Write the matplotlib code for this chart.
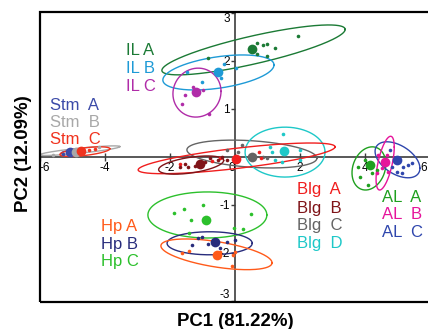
import numpy as np
import matplotlib
matplotlib.use("Agg")
import matplotlib.pyplot as plt
import matplotlib.transforms as mtransforms
from matplotlib.patches import Rectangle

plt.rcParams['font.family'] = ['Liberation Sans', 'DejaVu Sans']

# groupes
groups = ["Stm A", "Stm B", "Stm C", "IL A", "IL B", "IL C",
          "Blg C", "Blg D", "Blg A", "Blg B",
          "Hp C", "Hp B", "Hp A", "AL A", "AL C", "AL B"]

colors = {
    "IL A": "#1b7a35", "IL B": "#1e9ad6", "IL C": "#b02ca8",
    "Stm A": "#3b4aa8", "Stm B": "#a8a8a8", "Stm C": "#f0321e",
    "Hp A": "#ff5a1a", "Hp B": "#282c7c", "Hp C": "#2cc02c",
    "Blg A": "#f01e1e", "Blg B": "#7f1418", "Blg C": "#646464", "Blg D": "#1ec8c8",
    "AL A": "#1fa01f", "AL B": "#e6149b", "AL C": "#2f46ad",
}

# centroides
centroid_x = {"IL A": 0.52, "IL B": -0.52, "IL C": -1.2,
              "Stm A": -5.08, "Stm B": -4.9, "Stm C": -4.74,
              "Blg A": 0.03, "Blg B": -1.08, "Blg C": 0.52, "Blg D": 1.51,
              "Hp A": -0.55, "Hp B": -0.62, "Hp C": -0.89,
              "AL A": 4.15, "AL B": 4.62, "AL C": 4.98}
centroid_y = {"IL A": 2.25, "IL B": 1.77, "IL C": 1.35,
              "Stm A": 0.10, "Stm B": 0.11, "Stm C": 0.13,
              "Blg A": -0.04, "Blg B": -0.15, "Blg C": 0.0, "Blg D": 0.13,
              "Hp A": -2.04, "Hp B": -1.77, "Hp C": -1.31,
              "AL A": -0.17, "AL B": -0.10, "AL C": -0.06}

# ellipses de confiance : centre, demi-etendues, correlation
ell_cx = {"IL A": 0.57, "IL B": -0.51, "IL C": -1.17,
          "Stm A": -5.05, "Stm B": -4.77, "Stm C": -4.62,
          "Blg A": 0.05, "Blg B": -1.35, "Blg C": 0.52, "Blg D": 1.54,
          "Hp A": -0.57, "Hp B": -0.78, "Hp C": -0.85,
          "AL A": 4.12, "AL B": 4.62, "AL C": 5.0}
ell_cy = {"IL A": 2.23, "IL B": 1.76, "IL C": 1.34,
          "Stm A": 0.10, "Stm B": 0.13, "Stm C": 0.11,
          "Blg A": -0.03, "Blg B": -0.17, "Blg C": 0.06, "Blg D": 0.10,
          "Hp A": -2.03, "Hp B": -1.80, "Hp C": -1.21,
          "AL A": -0.24, "AL B": -0.13, "AL C": -0.06}
ell_sx = {"IL A": 2.82, "IL B": 1.71, "IL C": 0.74,
          "Stm A": 0.30, "Stm B": 1.23, "Stm C": 0.77,
          "Blg A": 3.03, "Blg B": 1.0, "Blg C": 2.0, "Blg D": 1.23,
          "Hp A": 1.71, "Hp B": 1.31, "Hp C": 1.83,
          "AL A": 0.52, "AL B": 0.28, "AL C": 0.69}
ell_sy = {"IL A": 0.52, "IL B": 0.365, "IL C": 0.51,
          "Stm A": 0.05, "Stm B": 0.10, "Stm C": 0.10,
          "Blg A": 0.32, "Blg B": 0.19, "Blg C": 0.29, "Blg D": 0.52,
          "Hp A": 0.32, "Hp B": 0.24, "Hp C": 0.48,
          "AL A": 0.45, "AL B": 0.56, "AL C": 0.375}
ell_rho = {"IL A": 0.82, "IL B": 0.43, "IL C": 0.05,
           "Stm A": 0.5, "Stm B": 0.85, "Stm C": 0.6,
           "Blg A": 0.75, "Blg B": 0.5, "Blg C": -0.3, "Blg D": 0.0,
           "Hp A": -0.55, "Hp B": 0.0, "Hp C": 0.0,
           "AL A": 0.2, "AL B": 0.6, "AL C": -0.47}

# echantillons individuels
point_x = {
    "IL A": [0.68, 0.86, 0.98, 1.23, 0.98, 0.68, 1.94, -0.83],
    "IL B": [0.03, -0.43, -0.34, -1.48, -1.02],
    "IL C": [-0.98, -1.54, -1.63, -0.8, -1.29],
    "Stm A": [-5.3, -4.95], "Stm B": [-5.6, -4.2], "Stm C": [-4.5, -4.3],
    "Blg A": [0.74, 0.8, -1.69, -0.71, -0.46],
    "Blg B": [-1.54, -1.45, -1.23, -0.92, -0.77, -0.52, -0.4, -1.69, -0.25],
    "Blg C": [0.2, -0.25, 0.86, 0.98, 0.1],
    "Blg D": [1.48, 1.08, 1.14, 1.45, 2.0, 2.0, 1.45, 1.23],
    "Hp A": [-1.63, -1.42, -0.46, -0.06, -0.09, 0.0],
    "Hp B": [-1.14, -1.02, -1.32, -0.83, -0.46, -0.25, 0.0],
    "Hp C": [-1.88, -1.57, -0.98, -1.35, -0.03, 0.25, 0.49, -1.42],
    "AL A": [4.0, 3.78, 3.85, 4.22, 4.09, 4.37],
    "AL B": [4.4, 4.68, 4.52, 4.37, 4.71],
    "AL C": [4.83, 5.17, 5.32, 5.45, 4.98, 5.14, 4.77],
}
point_y = {
    "IL A": [2.38, 2.33, 2.35, 2.27, 2.1, 2.15, 2.52, 2.06],
    "IL B": [1.85, 1.65, 1.94, 1.77, 1.56],
    "IL C": [1.4, 1.29, 1.1, 0.9, 1.46],
    "Stm A": [0.07, 0.1], "Stm B": [0.03, 0.2], "Stm C": [0.15, 0.17],
    "Blg A": [0.1, -0.02, -0.15, -0.08, -0.02],
    "Blg B": [-0.15, -0.2, -0.19, -0.1, -0.02, -0.06, 0.0, -0.2, -0.06],
    "Blg C": [0.25, 0.15, 0.0, -0.02, 0.1],
    "Blg D": [0.48, 0.21, 0.1, 0.15, 0.15, -0.06, -0.1, -0.06],
    "Hp A": [-2.0, -1.96, -1.98, -2.04, -2.27, -1.98],
    "Hp B": [-1.69, -1.67, -1.83, -1.81, -1.9, -1.77, -1.73],
    "Hp C": [-1.17, -1.08, -1.0, -1.31, -1.48, -1.5, -1.19, -1.58],
    "AL A": [-0.06, -0.21, -0.42, -0.33, -0.58, -0.27],
    "AL B": [0.04, 0.04, -0.23, -0.33, -0.31],
    "AL C": [-0.21, -0.21, -0.17, -0.12, -0.31, -0.33, 0.15],
}

# etiquettes (x gauche, ligne de base)
label_blocks = [
    (["IL A", "IL B", "IL C"], -3.35, [2.12, 1.75, 1.38]),
    (["Stm  A", "Stm  B", "Stm  C"], -5.69, [0.98, 0.63, 0.27]),
    (["Hp A", "Hp B", "Hp C"], -4.12, [-1.54, -1.92, -2.27]),
    (["Blg  A", "Blg  B", "Blg  C", "Blg  D"], 1.91, [-0.78, -1.16, -1.52, -1.90]),
    (["AL  A", "AL  B", "AL  C"], 4.52, [-0.95, -1.30, -1.67]),
]

xticks = [-6, -4, -2, 0, 2, 4, 6]
yticks = [-3, -2, -1, 1, 2, 3]

fig = plt.figure(figsize=(4.28, 3.29), dpi=100)
ax = fig.add_axes([40 / 428, 26.7 / 329, 390 / 428, 290.3 / 329])

t = np.linspace(0, 2 * np.pi, 300)
for g in groups:
    c = colors[g]
    r = ell_rho[g]
    ex = ell_cx[g] + ell_sx[g] * np.cos(t)
    ey = ell_cy[g] + ell_sy[g] * (r * np.cos(t) + np.sqrt(1 - r * r) * np.sin(t))
    ax.plot(ex, ey, color=c, lw=1.0, zorder=3)
for g in groups:
    ax.plot(point_x[g], point_y[g], 'o', color=colors[g], ms=2.6, mew=0, zorder=4)
for g in groups:
    ax.plot(centroid_x[g], centroid_y[g], 'o', color=colors[g], ms=7, mew=0, zorder=5)

for names, x0, ys in label_blocks:
    for name, yb in zip(names, ys):
        key = " ".join(name.split())
        ax.text(x0, yb, name, color=colors[key], fontsize=12, ha='left', va='baseline', zorder=6)

ax.set_xlim(-6, 6)
ax.set_ylim(-3.03, 3.02)

for s in ['top', 'right']:
    ax.spines[s].set_visible(False)
for s in ['left', 'bottom']:
    ax.spines[s].set_position(('data', 0))
    ax.spines[s].set_color('#3c3c3c')
    ax.spines[s].set_linewidth(1.2)
    ax.spines[s].set_zorder(1)

ax.set_xticks(xticks, [str(v) for v in xticks])
ax.set_yticks(yticks, [str(v) for v in yticks])
ax.tick_params(axis='x', direction='inout', length=6, width=1, pad=0.5, labelsize=8.5, color='#3c3c3c')
ax.tick_params(axis='y', direction='out', length=3, width=1, pad=0.5, labelsize=8.5, color='#3c3c3c')
shift = mtransforms.ScaledTranslation(-3 / 100, 0, fig.dpi_scale_trans)
for lbl in ax.get_xticklabels():
    if lbl.get_text() == '0':
        lbl.set_ha('right')
    if lbl.get_text() == '6':
        lbl.set_ha('right')
        lbl.set_transform(lbl.get_transform() + shift)
    if lbl.get_text() == '-6':
        lbl.set_ha('left')
for lbl in ax.get_yticklabels():
    if lbl.get_text() == '3':
        lbl.set_va('top')
    if lbl.get_text() == '-3':
        lbl.set_va('bottom')

ax.add_patch(Rectangle((0, 0), 1, 1, transform=ax.transAxes, fill=False,
                       lw=1.6, edgecolor='black', clip_on=False, zorder=7))

fig.text(235.5 / 428, 1 - 325.5 / 329, "PC1 (81.22%)", fontsize=13.4, fontweight='bold',
         ha='center', va='baseline')
fig.text(28 / 428, 1 - 153.5 / 329, "PC2 (12.09%)", fontsize=13.4, fontweight='bold',
         ha='center', va='baseline', rotation=90, rotation_mode='anchor')

fig.savefig("out.png", dpi=100)
